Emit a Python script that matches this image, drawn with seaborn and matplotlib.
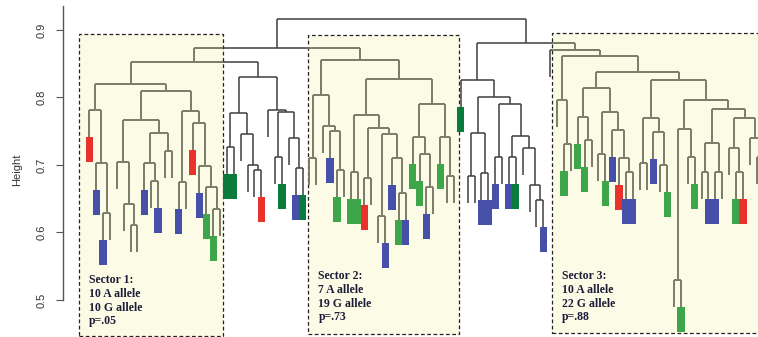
import matplotlib
matplotlib.use('Agg')
import matplotlib.pyplot as plt
from matplotlib.collections import LineCollection
from matplotlib.patches import Rectangle
import seaborn as sns

# Dendrogram pieces.
# A node is (merge height, left, right); a leaf is a colour code:
# r = red, b = blue, g = green, d = dark green, n = no mark
sector1 = (0.820,
           (0.781, 'r', (0.703, 'b', (0.629, 'b', 'n'))),
           (0.809,
            (0.766, (0.705, 'n', (0.642, 'n', (0.611, 'n', 'n'))),
                    (0.747, (0.703, 'b', (0.676, 'n', 'b')), (0.721, 'n', 'n'))),
            (0.780, (0.675, 'b', 'n'),
                    (0.762, 'r', (0.699, 'b', (0.667, 'g', (0.635, 'g', 'n')))))))

between12 = (0.831,
             (0.777, (0.727, 'd', 'd'),
                     (0.746, 'n', (0.700, 'n', (0.693, 'n', 'r')))),
             (0.781, 'n',
                     (0.779, (0.712, 'n', 'd'),
                             (0.740, 'n', (0.695, 'b', 'd')))))

sector2 = (0.855,
           (0.804, (0.711, 'n', 'n'),
                   (0.758, 'n', (0.750, 'b', (0.692, 'g', 'n')))),
           (0.827,
            (0.774, (0.690, 'g', 'g'),
                    (0.755, (0.681, 'r', 'n'),
                            (0.746, (0.625, 'n', 'b'),
                                    (0.711, 'b', (0.658, 'g', 'b'))))),
            (0.791, (0.741, 'g', (0.716, 'g', (0.667, 'b', 'n'))),
                    (0.742, 'g', (0.683, 'n', 'n')))))

between23 = (0.826, 'd',
             (0.800,
              (0.747, (0.683, 'n', 'n'), (0.688, 'b', 'b')),
              (0.790, (0.712, 'b', 'n'),
                      (0.743, (0.712, 'b', 'd'),
                              (0.725, 'n', (0.670, 'n', (0.648, 'n', 'b')))))))

sector3 = (0.870, 'n',
           (0.861,
            (0.796, 'n', (0.731, 'g', 'n')),
            (0.838,
             (0.814, (0.771, 'g', (0.737, 'g', 'n')),
                     (0.778, (0.717, 'n', 'g'),
                             (0.752, 'b', (0.710, 'r', (0.690, 'b', 'b'))))),
             (0.826,
              (0.769, (0.703, 'n', 'n'), (0.749, 'b', (0.700, 'n', 'g'))),
              (0.796,
               (0.754, (0.530, 'n', 'g'), (0.712, 'n', 'g')),
               (0.783,
                (0.733, (0.690, 'n', 'b'), (0.690, 'b', 'n')),
                (0.769, (0.725, 'n', (0.690, 'g', 'r')),
                        (0.740, 'n', (0.712, 'n', 'n')))))))))

tree = (0.916,
        (0.874, (0.853, sector1, between12), sector2),
        (0.881, between23, sector3))

sector_names = ['Sector 1:', 'Sector 2:', 'Sector 3:']
a_allele = [10, 7, 10]
g_allele = [10, 19, 22]
p_values = ['.05', '.73', '.88']

leaf_colors = {'r': '#e8322b', 'b': '#4650a8', 'g': '#3ea64a', 'd': '#0b7b3b'}

HANG = 0.04
BAR_LEN = 0.037

# walk the tree, leaves get positions 0, 1, 2, ...
segs = []
tips = []
counter = [0]


def layout(node, parent_h):
    if isinstance(node, str):
        x = counter[0]
        counter[0] += 1
        tip = parent_h - HANG
        tips.append((x, tip, node))
        return x, tip
    h, left, right = node
    xl, hl = layout(left, h)
    xr, hr = layout(right, h)
    segs.append([(xl, hl), (xl, h)])
    segs.append([(xl, h), (xr, h)])
    segs.append([(xr, h), (xr, hr)])
    return (xl + xr) / 2, h


layout(tree, tree[0])

sns.set_style('ticks')
fig = plt.figure(figsize=(7.58, 3.37), dpi=100)
ax = fig.add_axes([63 / 758, 0, 695 / 758, 1])

# sector boxes
box_left = [-1.5, 31.8, 67.2]
box_right = [19.4, 53.8, 101.0]
box_top = [0.894, 0.892, 0.896]
box_bottom = [0.4467, 0.4496, 0.4507]
boxes = []
for i in range(3):
    rect = Rectangle((box_left[i], box_bottom[i]), box_right[i] - box_left[i],
                     box_top[i] - box_bottom[i], facecolor='#fcfbe6',
                     edgecolor='#222222', linestyle=(0, (3, 2)), linewidth=0.9,
                     zorder=0)
    ax.add_patch(rect)
    boxes.append(rect)

# tree: dark outside the sectors, olive grey inside
ax.add_collection(LineCollection(segs, colors='#3f3f3f', linewidths=1.1, zorder=2))
for rect in boxes:
    lc = LineCollection(segs, colors='#85856f', linewidths=1.1, zorder=3)
    ax.add_collection(lc)
    lc.set_clip_path(rect)

# coloured leaf marks
for x, tip, code in tips:
    if code == 'n':
        continue
    ax.bar(x, BAR_LEN, bottom=tip - BAR_LEN, width=1.05,
           color=leaf_colors[code], edgecolor='none', zorder=4)

# sector labels
text_x = [0.0, 33.3, 68.75]
text_y = [0.5385, 0.5444, 0.5444]
for i in range(3):
    label = '%s\n%d A allele\n%d G allele\np=%s' % (
        sector_names[i], a_allele[i], g_allele[i], p_values[i])
    ax.text(text_x[i], text_y[i], label, ha='left', va='top',
            fontsize=8.5, fontweight='bold', family='Liberation Serif',
            color='#1c1c38', zorder=5)

ax.set_xlim((63 - 89.3) / 6.88, (758 - 89.3) / 6.88)
ax.set_ylim(0.9 - 307 / 675, 0.9 + 30 / 675)
ax.set_facecolor('none')
sns.despine(ax=ax, bottom=True, top=True, right=True)
ax.set_xticks([])
ax.set_yticks([0.5, 0.6, 0.7, 0.8, 0.9])
ax.set_yticklabels(['0.5', '0.6', '0.7', '0.8', '0.9'])
ax.spines['left'].set_bounds(0.5, 0.935)
ax.spines['left'].set_color('#555555')
ax.spines['left'].set_linewidth(1.0)
ax.tick_params(axis='y', length=5, pad=6.5, labelsize=8, color='#555555',
               labelcolor='#333333', labelrotation=90)
plt.setp(ax.get_yticklabels(), va='center', family='Liberation Sans')
ax.set_ylabel('Height', fontsize=8, color='#333333', family='Liberation Sans')
ax.yaxis.set_label_coords(-0.059, 0.495)

fig.savefig('out.png', dpi=100)
